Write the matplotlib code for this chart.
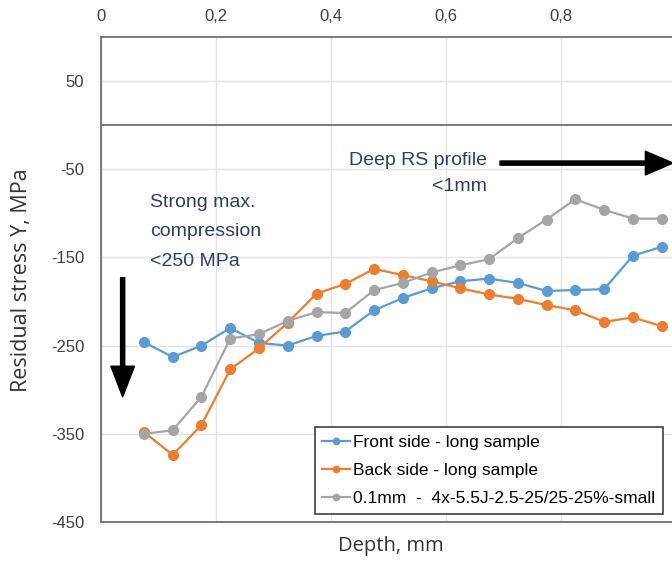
import matplotlib
matplotlib.use("Agg")
import matplotlib.pyplot as plt
from matplotlib.ticker import FuncFormatter

plt.rcParams["font.family"] = ["Liberation Sans", "DejaVu Sans"]
plt.rcParams["axes.unicode_minus"] = False

# depth positions (mm)
depth = [0.075, 0.125, 0.175, 0.225, 0.275, 0.325, 0.375, 0.425, 0.475, 0.525,
         0.575, 0.625, 0.675, 0.725, 0.775, 0.825, 0.875, 0.925, 0.975]

front = [-246, -263, -250, -230, -247, -250, -239, -234, -210, -196,
         -185, -177, -174, -179, -188, -187, -186, -148, -138]
back = [-348, -374, -340, -277, -253, -224, -191, -180, -163, -170,
        -177, -185, -192, -197, -204, -210, -223, -218, -228]
small = [-350, -346, -308, -242, -237, -222, -212, -213, -187, -179,
         -167, -159, -152, -128, -107, -84, -96, -106, -106]

labels = ["Front side - long sample",
          "Back side - long sample",
          "0.1mm  -  4x-5.5J-2.5-25/25-25%-small"]
colors = ["#5B9BD5", "#ED7D31", "#A5A5A5"]

xticks = [0, 0.2, 0.4, 0.6, 0.8, 1.0]
yticks = [-450, -350, -250, -150, -50, 50]

fig = plt.figure(figsize=(6.72, 5.62), dpi=100)
ax = fig.add_axes([0.150, 0.0712, 0.856, 0.863])

for ys, lab, col in zip([front, back, small], labels, colors):
    ax.plot(depth, ys, "-o", color=col, lw=1.6, ms=7, label=lab, zorder=3)

ax.set_xlim(0, 1.0)
ax.set_ylim(-450, 100)
ax.set_xticks(xticks)
ax.set_yticks(yticks)
ax.xaxis.tick_top()
ax.xaxis.set_major_formatter(FuncFormatter(
    lambda v, p: "0" if v == 0 else ("1" if v == 1 else f"{v:.1f}".replace(".", ","))))
ax.tick_params(length=0, labelsize=12, labelcolor="#404040")
ax.tick_params(axis="x", pad=9)
ax.tick_params(axis="y", pad=12)
ax.grid(True, color="#E3E3E3", lw=1)
for s in ax.spines.values():
    s.set_color("#6E6E6E")
    s.set_linewidth(1.3)
ax.axhline(0, color="#6E6E6E", lw=1.3, zorder=2)

ax.set_ylabel("Residual stress Y, MPa", fontsize=15.5, color="#333333",
              family=["Open Sans", "DejaVu Sans"], va="center", ha="center")
ax.yaxis.set_label_coords(-0.137, 0.499)
ax.set_xlabel("Depth, mm", fontsize=14.5, color="#333333",
              family=["Open Sans", "DejaVu Sans"], va="center", ha="center")
ax.xaxis.set_label_coords(0.504, -0.049)

# annotations
ax.annotate("", xy=(0.995, -43), xytext=(0.694, -43),
            arrowprops=dict(facecolor="black", edgecolor="black", width=3,
                            headwidth=17, headlength=20))
ax.text(0.671, -55, "Deep RS profile\n<1mm", ha="right", va="center",
        multialignment="right", fontsize=14, color="#2E3D6B", linespacing=1.7)

ax.annotate("", xy=(0.038, -308), xytext=(0.038, -173),
            arrowprops=dict(facecolor="black", edgecolor="black", width=3,
                            headwidth=17, headlength=22))
ax.text(0.085, -121, "Strong max.\ncompression\n<250 MPa", ha="left", va="center",
        fontsize=14, color="#2E3D6B", linespacing=1.95)

leg = ax.legend(loc="lower right", bbox_to_anchor=(0.977, 0.0165), fontsize=12.5,
                frameon=True, fancybox=False, edgecolor="#404040", framealpha=1,
                borderpad=0.45, labelspacing=0.75, handlelength=1.6, handletextpad=0.15,
                borderaxespad=0, markerscale=0.65)
leg.get_frame().set_linewidth(1.2)

fig.savefig("out.png", dpi=100)
